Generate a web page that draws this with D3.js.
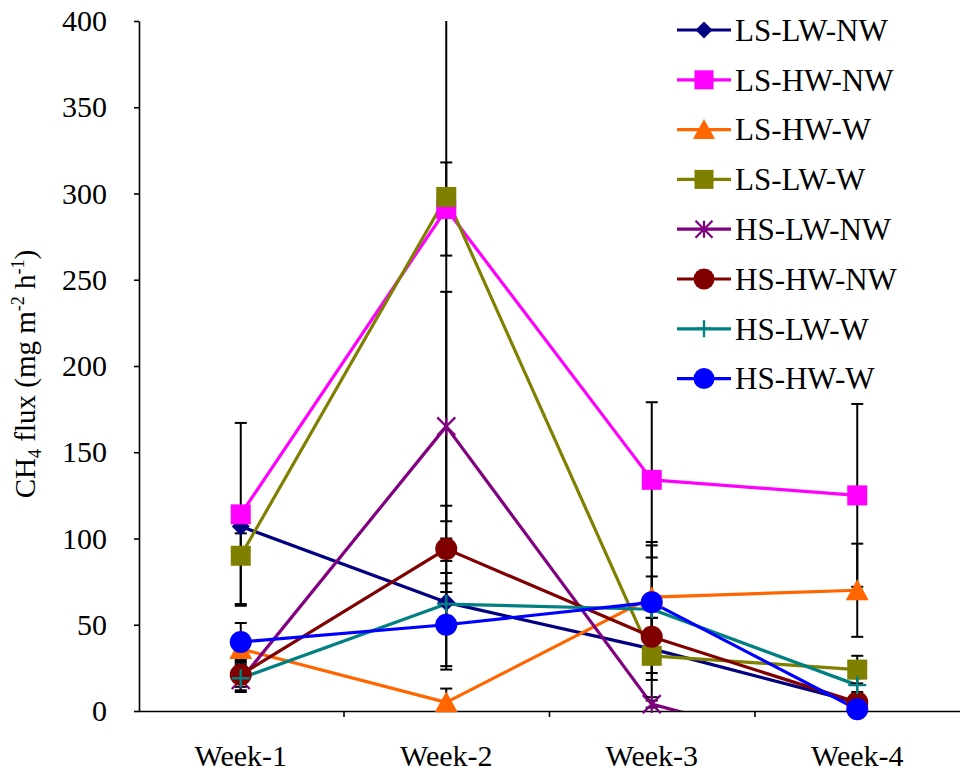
<!DOCTYPE html>
<html>
<head>
<meta charset="utf-8">
<script src="https://cdn.jsdelivr.net/npm/d3@7/dist/d3.min.js"></script>
<style>
  html, body { margin: 0; padding: 0; background: #fff; }
  svg { display: block; font-family: "Liberation Serif", "Times New Roman", serif; }
</style>
</head>
<body>
<svg id="chart" width="960" height="774"></svg>
<script>
// Weekly CH4 flux by treatment (mean ± error)
const weeks = ["Week-1", "Week-2", "Week-3", "Week-4"];
const yTicks = [0, 50, 100, 150, 200, 250, 300, 350, 400];

const seriesNames = ["LS-LW-NW", "LS-HW-NW", "LS-HW-W", "LS-LW-W",
                     "HS-LW-NW", "HS-HW-NW", "HS-LW-W", "HS-HW-W"];

const lsLwNw = [107, 63, 36, 5];
const lsHwNw = [114, 291, 134, 125];
const lsHwW  = [36, 5, 66, 70];
const lsLwW  = [90, 298, 32, 24];
const hsLwNw = [18, 165, 4, -28];
const hsHwNw = [21, 94, 43, 5];
const hsLwW  = [19, 62, 59, 15];
const hsHwW  = [40, 50, 63, 1];

const lsLwNwErr = [4, 17, 18, 2];
const lsHwNwErr = [53, 27, 45, 53];
const lsHwWErr  = [6, 8, 30, 27];
const lsLwWErr  = [28, 188, 10, 8];
const hsLwNwErr = [6, 78, 2, 3];
const hsHwNwErr = [7, 25, 35, 3];
const hsLwWErr  = [8, 38, 5, 4];
const hsHwWErr  = [11, 24, 35, 1];

const seriesValues = [lsLwNw, lsHwNw, lsHwW, lsLwW, hsLwNw, hsHwNw, hsLwW, hsHwW];
const seriesErrors = [lsLwNwErr, lsHwNwErr, lsHwWErr, lsLwWErr, hsLwNwErr, hsHwNwErr, hsLwWErr, hsHwWErr];
const seriesColors = ["#000080", "#FF00FF", "#FF6600", "#808000",
                      "#800080", "#800000", "#008080", "#0000FF"];
const seriesMarkers = ["diamond", "square", "triangle", "square",
                       "star", "circle", "plus", "circle"];

const series = seriesNames.map((name, i) => ({
  name, color: seriesColors[i], marker: seriesMarkers[i],
  points: weeks.map((w, j) => ({ week: w, value: seriesValues[i][j], err: seriesErrors[i][j] }))
}));

const FONT = '"Liberation Serif", "Times New Roman", serif';
const svg = d3.select("#chart");
const plot = { left: 138, right: 960, top: 21, bottom: 711 };

const x = d3.scaleBand().domain(weeks).range([plot.left, plot.right]).padding(0);
const xEdge = d3.scaleLinear().domain([0, weeks.length]).range([plot.left, plot.right]);
const y = d3.scaleLinear().domain([0, 400]).range([plot.bottom, plot.top]);
const cx = w => x(w) + x.bandwidth() / 2;

svg.append("defs").append("clipPath").attr("id", "plotClip")
  .append("rect")
  .attr("x", plot.left).attr("y", plot.top)
  .attr("width", plot.right - plot.left).attr("height", plot.bottom - plot.top);

// Axes
const yAxis = svg.append("g")
  .attr("transform", `translate(${plot.left + 1},0)`)
  .call(d3.axisLeft(y).tickValues(yTicks).tickSize(5).tickSizeOuter(0).tickPadding(27));
yAxis.attr("font-family", FONT).attr("font-size", 30);
yAxis.selectAll("text").attr("fill", "#000");
yAxis.selectAll("line, path").attr("stroke", "#000").attr("stroke-width", 1.6);

const xTickAxis = svg.append("g")
  .attr("transform", `translate(0,${plot.bottom})`)
  .call(d3.axisBottom(xEdge).tickValues([1, 2, 3]).tickSize(6).tickSizeOuter(0).tickFormat(""));
xTickAxis.selectAll("line, path").attr("stroke", "#000").attr("stroke-width", 1.6);

const xLabelAxis = svg.append("g")
  .attr("transform", `translate(0,${plot.bottom})`)
  .call(d3.axisBottom(x).tickSize(0).tickPadding(34));
xLabelAxis.attr("font-family", FONT).attr("font-size", 30);
xLabelAxis.select(".domain").remove();
xLabelAxis.selectAll("text").attr("fill", "#000");

// Y axis title with subscript / superscripts
const title = svg.append("text")
  .attr("transform", `translate(35,374) rotate(-90)`)
  .attr("text-anchor", "middle")
  .style("font-size", "29px")
  .attr("fill", "#000");
title.append("tspan").text("CH");
title.append("tspan").attr("dy", 6).style("font-size", "18px").text("4");
title.append("tspan").attr("dy", -6).text(" flux (mg m");
title.append("tspan").attr("dy", -11).style("font-size", "18px").text("-2");
title.append("tspan").attr("dy", 11).text(" h");
title.append("tspan").attr("dy", -11).style("font-size", "18px").text("-1");
title.append("tspan").attr("dy", 11).text(")");

// Marker shapes
function drawMarker(g, type, color, px, py, s) {
  if (type === "square") {
    g.append("rect").attr("x", px - s / 2).attr("y", py - s / 2)
      .attr("width", s).attr("height", s).attr("fill", color);
  } else if (type === "circle") {
    g.append("circle").attr("cx", px).attr("cy", py).attr("r", s / 2 + 0.5).attr("fill", color);
  } else if (type === "triangle") {
    const h = s * 0.95;
    g.append("path")
      .attr("d", `M${px},${py - h / 2 - 1}L${px + s / 2 + 1},${py + h / 2}L${px - s / 2 - 1},${py + h / 2}Z`)
      .attr("fill", color);
  } else if (type === "diamond") {
    const r = s / 2;
    g.append("path")
      .attr("d", `M${px},${py - r}L${px + r},${py}L${px},${py + r}L${px - r},${py}Z`)
      .attr("fill", color);
  } else if (type === "star") {
    const r = s / 2;
    g.append("path")
      .attr("d", `M${px - r},${py - r}L${px + r},${py + r}M${px + r},${py - r}L${px - r},${py + r}M${px},${py - r}L${px},${py + r}`)
      .attr("stroke", color).attr("stroke-width", 2.2).attr("fill", "none");
  } else if (type === "plus") {
    const r = s / 2;
    g.append("path")
      .attr("d", `M${px - r},${py}L${px + r},${py}M${px},${py - r}L${px},${py + r}`)
      .attr("stroke", color).attr("stroke-width", 2.4).attr("fill", "none");
  }
}

const markerSize = { square: 20, circle: 21, triangle: 21, diamond: 18, star: 18, plus: 18 };

// Series lines
const line = d3.line().x(d => cx(d.week)).y(d => y(d.value));
const lines = svg.append("g").attr("clip-path", "url(#plotClip)");
series.forEach(s => {
  lines.append("path").datum(s.points)
    .attr("d", line)
    .attr("fill", "none")
    .attr("stroke", s.color)
    .attr("stroke-width", 3.2)
    .attr("stroke-linejoin", "round");
});

// Error bars
const bars = svg.append("g").attr("clip-path", "url(#plotClip)");
const capHalf = 6;
series.forEach(s => {
  s.points.forEach(p => {
    const px = cx(p.week);
    const hi = p.value + p.err, lo = p.value - p.err;
    bars.append("line")
      .attr("x1", px).attr("x2", px).attr("y1", y(hi)).attr("y2", y(lo))
      .attr("stroke", "#000").attr("stroke-width", 2);
    [hi, lo].forEach(v => {
      if (v >= 0 && v <= 400) {
        bars.append("line")
          .attr("x1", px - capHalf).attr("x2", px + capHalf)
          .attr("y1", y(v)).attr("y2", y(v))
          .attr("stroke", "#000").attr("stroke-width", 2);
      }
    });
  });
});

// Point markers (only those within the axis range)
const marks = svg.append("g");
series.forEach(s => {
  s.points.filter(p => p.value >= 0 && p.value <= 400).forEach(p => {
    drawMarker(marks, s.marker, s.color, cx(p.week), y(p.value), markerSize[s.marker]);
  });
});

// Legend
const legend = svg.append("g");
series.forEach((s, i) => {
  const ly = 30 + i * 49.8;
  legend.append("line")
    .attr("x1", 677).attr("x2", 731).attr("y1", ly).attr("y2", ly)
    .attr("stroke", s.color).attr("stroke-width", 3.2);
  drawMarker(legend, s.marker, s.color, 704, ly, markerSize[s.marker] - 1);
  legend.append("text")
    .attr("x", 735).attr("y", ly).attr("dy", "0.35em")
    .style("font-size", "31px").attr("fill", "#000")
    .text(s.name);
});
</script>
</body>
</html>
